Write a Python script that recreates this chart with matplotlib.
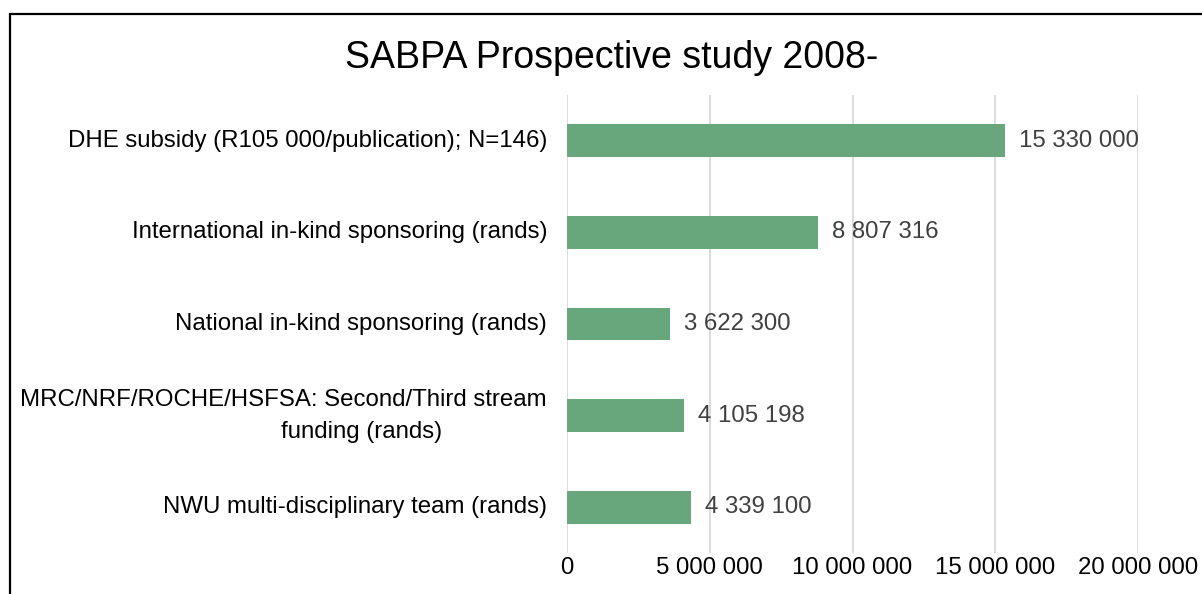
import matplotlib
matplotlib.use("Agg")
import matplotlib.pyplot as plt
from matplotlib.patches import Rectangle
from matplotlib.ticker import FuncFormatter

#---------data (bottom to top)---------
categories = [
    "NWU multi-disciplinary team (rands)",
    "MRC/NRF/ROCHE/HSFSA: Second/Third stream\nfunding (rands)",
    "National in-kind sponsoring (rands)",
    "International in-kind sponsoring (rands)",
    "DHE subsidy (R105 000/publication); N=146)",
]
values = [4339100, 4105198, 3622300, 8807316, 15330000]
xticks = [0, 5000000, 10000000, 15000000, 20000000]
title = "SABPA Prospective study 2008-"

bar_color = "#68A67B"
fs = 17.3

def spaced(v):
    return f"{int(v):,}".replace(",", " ")

plt.rcParams['font.family'] = ['Liberation Sans', 'DejaVu Sans']

fig = plt.figure(figsize=(12.02, 5.94), dpi=100)
W, H = 1202, 594
ax = fig.add_axes([567 / W, 41 / H, (1138 - 567) / W, (553 - 95) / H])

y = list(range(len(categories)))
ax.barh(y, values, height=0.36, color=bar_color, zorder=3)

for yi, v in zip(y, values):
    ax.annotate(spaced(v), xy=(v, yi), xytext=(14, 0), textcoords="offset pixels",
                ha="left", va="center", fontsize=fs, color="#404040")

ax.set_xlim(0, xticks[-1])
ax.set_ylim(-0.5, len(categories) - 0.5)
ax.set_xticks(xticks)
ax.xaxis.set_major_formatter(FuncFormatter(lambda v, p: spaced(v)))
ax.tick_params(axis="x", length=0, pad=3, labelsize=fs, labelcolor="black")
ax.set_yticks([])
ax.grid(axis="x", color="#D9D9D9", lw=1.3, zorder=0)
for s in ax.spines.values():
    s.set_visible(False)

# category labels drawn by hand so the wrapped one can sit like the original
for yi, lab in zip(y, categories):
    lines = lab.split("\n")
    if len(lines) == 1:
        ax.annotate(lab, xy=(0, yi), xycoords=("axes fraction", "data"),
                    xytext=(-20, 0), textcoords="offset pixels",
                    ha="right", va="center", fontsize=fs)
    else:
        ax.annotate(lines[0], xy=(0, yi), xycoords=("axes fraction", "data"),
                    xytext=(-20, 16), textcoords="offset pixels",
                    ha="right", va="center", fontsize=fs)
        ax.annotate(lines[1], xy=(0, yi), xycoords=("axes fraction", "data"),
                    xytext=(-205, -16), textcoords="offset pixels",
                    ha="center", va="center", fontsize=fs)

fig.text(612 / W, 1 - 58 / H, title, ha="center", va="center", fontsize=27)

# outer frame, runs off the right and bottom edge
fig.add_artist(Rectangle((9.5 / W, -0.2), 1.2, 1.2 - 13.5 / H,
                         transform=fig.transFigure, fill=False,
                         edgecolor="black", lw=1.6))

fig.savefig("out.png", dpi=100)
